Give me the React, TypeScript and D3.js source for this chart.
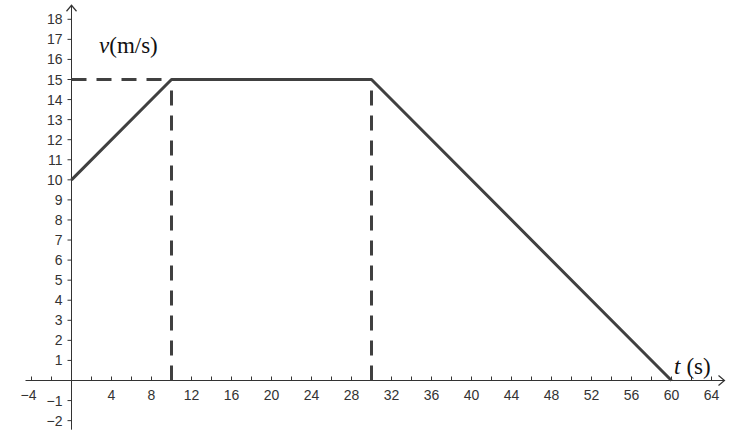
import React from "react";
import * as d3 from "d3";

const timeValues = [0, 10, 30, 60];
const speedValues = [10, 15, 15, 0];
const xTickLabels = [-4, 4, 8, 12, 16, 20, 24, 28, 32, 36, 40, 44, 48, 52, 56, 60, 64];
const xMinorTicks = [-4, -2, 2, 4, 6, 8, 10, 12, 14, 16, 18, 20, 22, 24, 26, 28, 30, 32, 34, 36, 38, 40, 42, 44, 46, 48, 50, 52, 54, 56, 58, 60, 62, 64];
const yTickLabels = [-2, -1, 1, 2, 3, 4, 5, 6, 7, 8, 9, 10, 11, 12, 13, 14, 15, 16, 17, 18];
const dashedGuides = [
  { x1: 0, y1: 15, x2: 10, y2: 15 },
  { x1: 10, y1: 0, x2: 10, y2: 15 },
  { x1: 30, y1: 0, x2: 30, y2: 15 },
];

const W = 742;
const H = 447;

export default function App() {
  const x = d3.scaleLinear().domain([0, 60]).range([71.5, 671.5]);
  const y = d3.scaleLinear().domain([0, 15]).range([380.5, 79.5]);
  const line = d3
    .line<number>()
    .x((_, i) => x(timeValues[i]))
    .y((d) => y(d));
  const axisColor = "#333";
  const markColor = "#404040";
  const font = "'Liberation Sans', Arial, sans-serif";
  const serif = "'Liberation Serif', 'DejaVu Serif', serif";
  const x0 = x(0);
  const y0 = y(0);
  const xLeft = x(-4.6);
  const xRight = x(65.3);
  const yTop = y(18.7);
  const yBottom = y(-2.45);
  return (
    <svg width={W} height={H} style={{ position: "absolute", left: 0, top: 0, background: "#fff" }}>
      <line x1={xLeft} y1={y0} x2={xRight} y2={y0} stroke={axisColor} strokeWidth={1} />
      <line x1={x0} y1={yBottom} x2={x0} y2={yTop} stroke={axisColor} strokeWidth={1} />
      <path d={`M${xRight - 6},${y0 - 5} L${xRight},${y0} L${xRight - 6},${y0 + 5}`} fill="none" stroke={axisColor} strokeWidth={1.2} />
      <path d={`M${x0 - 5},${yTop + 6} L${x0},${yTop} L${x0 + 5},${yTop + 6}`} fill="none" stroke={axisColor} strokeWidth={1.2} />
      {xMinorTicks.map((t) => (
        <line key={"xt" + t} x1={x(t)} x2={x(t)} y1={y0} y2={y0 - 4} stroke={axisColor} strokeWidth={1} />
      ))}
      {yTickLabels.map((t) => (
        <line key={"yt" + t} x1={x0} x2={x0 - 4} y1={y(t)} y2={y(t)} stroke={axisColor} strokeWidth={1} />
      ))}
      {xTickLabels.map((t) => (
        <text key={"xl" + t} x={x(t) - (t < 0 ? 3 : 0)} y={y0 + 19} textAnchor="middle" fontFamily={font} fontSize={14} fill={axisColor}>
          {t < 0 ? "\u2212" + Math.abs(t) : String(t)}
        </text>
      ))}
      {yTickLabels.map((t) => (
        <text key={"yl" + t} x={x0 - 9} y={y(t) + 5} textAnchor="end" fontFamily={font} fontSize={14} fill={axisColor}>
          {t < 0 ? "\u2212" + Math.abs(t) : String(t)}
        </text>
      ))}
      {dashedGuides.map((g, i) => (
        <line
          key={"g" + i}
          x1={x(g.x1)}
          y1={y(g.y1)}
          x2={x(g.x2)}
          y2={y(g.y2)}
          stroke={markColor}
          strokeWidth={3}
          strokeDasharray="15 10"
        />
      ))}
      <path d={line(speedValues) || ""} fill="none" stroke={markColor} strokeWidth={3} strokeLinejoin="round" />
      <text x={99} y={53} fontFamily={serif} fontSize={23} fill="#111">
        <tspan fontStyle="italic">v</tspan>(m/s)
      </text>
      <text x={674} y={374} fontFamily={serif} fontSize={23} fill="#111" xmlSpace="preserve">
        <tspan fontStyle="italic">t</tspan>
        <tspan dx={6}>(s)</tspan>
      </text>
    </svg>
  );
}
